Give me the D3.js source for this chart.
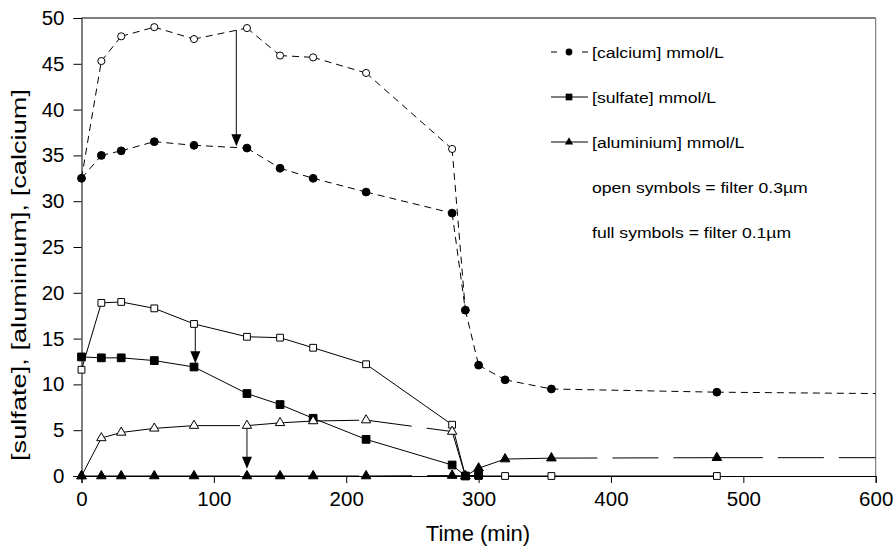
<!DOCTYPE html>
<html><head><meta charset="utf-8">
<script src="https://cdn.jsdelivr.net/npm/d3@7"></script>
<style>body{margin:0;background:#fff} text{font-family:"Liberation Sans",Arial,sans-serif;fill:#000}</style>
</head><body><svg id="c" width="896" height="551"></svg>
<script>
// ---- data ----
const timeMin       = [0, 15, 30, 55, 85, 125, 150, 175, 215, 280, 290, 300, 320, 355, 480, 600];
const calciumOpen   = [32.5, 45.3, 48.0, 49.0, 47.7, 48.9, 45.9, 45.7, 44.0, 35.7, 18.1];
const calciumFull   = [32.5, 35.0, 35.5, 36.5, 36.1, 35.8, 33.6, 32.5, 31.0, 28.7, 18.1, 12.1, 10.5, 9.5, 9.15, 9.0];
const sulfateOpen   = [11.6, 18.9, 19.0, 18.3, 16.6, 15.2, 15.1, 14.0, 12.2, 5.6, 0, 0, 0, 0, 0];
const sulfateFull   = [13.0, 12.9, 12.9, 12.6, 11.9, 9.0, 7.8, 6.3, 4.0, 1.2, 0, 0.1];
const aluminiumOpen = [0, 4.15, 4.75, 5.2, 5.5, 5.5, 5.8, 6.0, 6.1, 4.85, 0];
const aluminiumFull = [0, 0, 0, 0, 0, 0, 0, 0, 0, 0.05, 0, 0.85, 1.85, 1.95, 2.0, 2.0];
const xTicks = [0, 100, 200, 300, 400, 500, 600];
const yTicks = [0, 5, 10, 15, 20, 25, 30, 35, 40, 45, 50];
const arrowTime = [117, 86, 125];
const arrowFrom = [48.7, 16.6, 5.5];
const arrowTo   = [36.0, 12.3, 0.8];
const legendLabels = ["[calcium] mmol/L", "[sulfate] mmol/L", "[aluminium] mmol/L"];
const noteLabels = ["open symbols = filter 0.3\u00b5m", "full symbols = filter 0.1\u00b5m"];
const xTitle = "Time (min)";
const yTitle = "[sulfate], [aluminium], [calcium]";

// ---- layout ----
const svg = d3.select("#c");
const L = 81.5, R = 875.7, T = 18, B = 476;
const x = d3.scaleLinear().domain([0, 600]).range([L, R]);
const y = d3.scaleLinear().domain([0, 50]).range([B, T]);
const FONT = '"Liberation Sans",Arial,sans-serif';

const series = [
  {vals: calciumOpen,   sym: d3.symbolCircle,   size: 40, open: true,  dash: "7,5"},
  {vals: calciumFull,   sym: d3.symbolCircle,   size: 48, open: false, dash: "7,5"},
  {vals: sulfateOpen,   sym: d3.symbolSquare,   size: 46, open: true,  dash: null},
  {vals: sulfateFull,   sym: d3.symbolSquare,   size: 60, open: false, dash: null},
  {vals: aluminiumOpen, sym: d3.symbolTriangle, size: 38, open: true,  dash: "46,15"},
  {vals: aluminiumFull, sym: d3.symbolTriangle, size: 40, open: false, dash: "46,15"}
];

const plot = svg.append("g");
plot.append("line").attr("x1", L).attr("x2", R).attr("y1", T).attr("y2", T).attr("stroke", "#000");
plot.append("line").attr("x1", R).attr("x2", R).attr("y1", T).attr("y2", B).attr("stroke", "#666");

// lines (dash pattern restarts per segment)
series.forEach(s => {
  const pts = s.vals.map((v, i) => [x(timeMin[i]), y(v)]);
  for (let i = 0; i < pts.length - 1; i++) {
    plot.append("line")
      .attr("x1", pts[i][0]).attr("y1", pts[i][1])
      .attr("x2", pts[i + 1][0]).attr("y2", pts[i + 1][1])
      .attr("stroke", "#000").attr("stroke-width", 1)
      .attr("stroke-dasharray", s.dash);
  }
});

// arrows
arrowTime.forEach((t, i) => {
  const ax = x(t), y1 = y(arrowFrom[i]), y2 = y(arrowTo[i]);
  plot.append("line").attr("x1", ax).attr("x2", ax).attr("y1", y1).attr("y2", y2 - 10)
    .attr("stroke", "#333").attr("stroke-width", 1.2);
  plot.append("path")
    .attr("d", `M${ax - 5},${y2 - 12}L${ax + 5},${y2 - 12}L${ax},${y2}Z`)
    .attr("fill", "#000");
});

// axes
const xAxis = d3.axisBottom(x).tickValues(xTicks).tickSize(7).tickPadding(8).tickFormat(d3.format("d"));
const gx = svg.append("g").attr("transform", `translate(0,${B})`).call(xAxis);
gx.select(".domain").attr("stroke", "#000");
gx.selectAll("text").attr("font-size", 20.5).style("font-family", FONT);

const yAxis = d3.axisLeft(y).tickValues(yTicks).tickSize(8).tickPadding(9).tickFormat(d3.format("d"));
const gy = svg.append("g").attr("transform", `translate(${L},0)`).call(yAxis);
gy.select(".domain").attr("stroke", "#000");
gy.selectAll("text").attr("font-size", 20.5).style("font-family", FONT);

// markers
const mk = svg.append("g");
series.forEach(s => {
  s.vals.forEach((v, i) => {
    const t = timeMin[i];
    if (t >= 600) return;
    mk.append("path")
      .attr("d", d3.symbol().type(s.sym).size(s.size)())
      .attr("transform", `translate(${x(t)},${y(v)})`)
      .attr("fill", s.open ? "#fff" : "#000")
      .attr("stroke", "#000").attr("stroke-width", 1);
  });
});

// titles
svg.append("text").attr("x", 478).attr("y", 541).attr("text-anchor", "middle")
  .attr("font-size", 22).text(xTitle);
svg.append("text").attr("transform", `translate(26,275) rotate(-90)`)
  .attr("text-anchor", "middle").attr("font-size", 20)
  .attr("textLength", 372).attr("lengthAdjust", "spacingAndGlyphs").text(yTitle);

// legend
const lg = svg.append("g");
const rowY = [52, 97, 142, 187, 232];
const legSeries = [series[1], series[3], series[5]];
const stretch = 1.135;
legSeries.forEach((s, i) => {
  const yy = rowY[i];
  if (i === 0) {
    lg.append("line").attr("x1", 551).attr("x2", 569).attr("y1", yy).attr("y2", yy)
      .attr("stroke", "#000").attr("stroke-dasharray", "6,14");
    lg.append("line").attr("x1", 588).attr("x2", 569).attr("y1", yy).attr("y2", yy)
      .attr("stroke", "#000").attr("stroke-dasharray", "6,14");
  } else {
    lg.append("line").attr("x1", 551).attr("x2", 588).attr("y1", yy).attr("y2", yy).attr("stroke", "#000");
  }
  lg.append("path").attr("d", d3.symbol().type(s.sym).size(s.size * 0.75)())
    .attr("transform", `translate(569,${yy})`).attr("fill", "#000");
  lg.append("text").attr("transform", `translate(592,${yy + 5.5}) scale(${stretch},1)`)
    .attr("font-size", 15.5).text(legendLabels[i]);
});
noteLabels.forEach((t, i) => {
  lg.append("text").attr("transform", `translate(592,${rowY[3 + i] + 5.5}) scale(${stretch},1)`)
    .attr("font-size", 15.5).text(t);
});
</script></body></html>
